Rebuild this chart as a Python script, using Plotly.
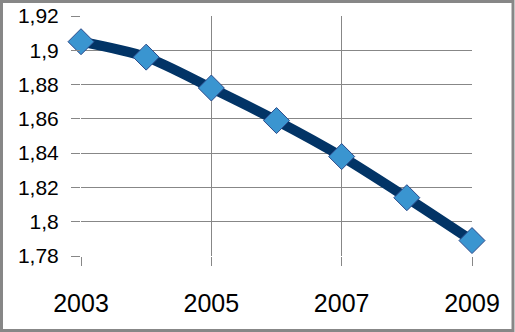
import plotly.graph_objects as go

years = [2003, 2004, 2005, 2006, 2007, 2008, 2009]
values = [1.905, 1.896, 1.878, 1.859, 1.838, 1.814, 1.789]
y_tickvals = [1.78, 1.80, 1.82, 1.84, 1.86, 1.88, 1.90, 1.92]
y_ticktext = ["1,78", "1,8", "1,82", "1,84", "1,86", "1,88", "1,9", "1,92"]
x_tickvals = [2003, 2005, 2007, 2009]
x_ticktext = ["2003", "2005", "2007", "2009"]

W, H = 515, 332
L, R, T, B = 81, 43, 16, 76
pw, ph = W - L - R, H - T - B
plot_bottom = H - B

def px_to_paper_x(px):
    return (px - L) / pw

def px_to_paper_y(py):
    return (plot_bottom - py) / ph

fig = go.Figure()
fig.add_trace(go.Scatter(
    x=years, y=values, mode="lines+markers",
    line=dict(color="#023466", width=10, shape="spline", smoothing=0.8),
    marker=dict(symbol="diamond", size=20, color="#3A95D0",
                line=dict(color="#2C4A8A", width=1)),
    showlegend=False, cliponaxis=False,
))

grid = "#878787"
fig.update_layout(
    width=W, height=H, autosize=False,
    margin=dict(l=L, r=R, t=T, b=B, pad=0, autoexpand=False),
    paper_bgcolor="white", plot_bgcolor="white",
    font=dict(family="Liberation Sans", color="#000000"),
    xaxis=dict(range=[2003, 2009], tickvals=x_tickvals, ticktext=x_ticktext,
               showgrid=True, gridcolor=grid, gridwidth=1,
               ticks="outside", ticklen=9, tickcolor=grid, tickwidth=1,
               tickfont=dict(size=25), ticklabelstandoff=16, automargin=False,
               showline=False, zeroline=False, fixedrange=True),
    yaxis=dict(range=[1.78, 1.92], tickvals=y_tickvals, ticktext=y_ticktext,
               showgrid=True, gridcolor=grid, gridwidth=1,
               ticks="outside", ticklen=9, tickcolor=grid, tickwidth=1,
               tickfont=dict(size=21), ticklabelstandoff=8, automargin=False,
               showline=False, zeroline=False, fixedrange=True),
    shapes=[dict(type="rect", xref="paper", yref="paper",
                 x0=px_to_paper_x(1.5), x1=px_to_paper_x(W - 2),
                 y0=px_to_paper_y(H - 1.5), y1=px_to_paper_y(1.5),
                 line=dict(color=grid, width=3), fillcolor="rgba(0,0,0,0)",
                 layer="above")],
)

fig.write_html("out.html", config={"displayModeBar": False},
               post_script="document.body.style.margin='0';document.body.style.overflow='hidden';")
